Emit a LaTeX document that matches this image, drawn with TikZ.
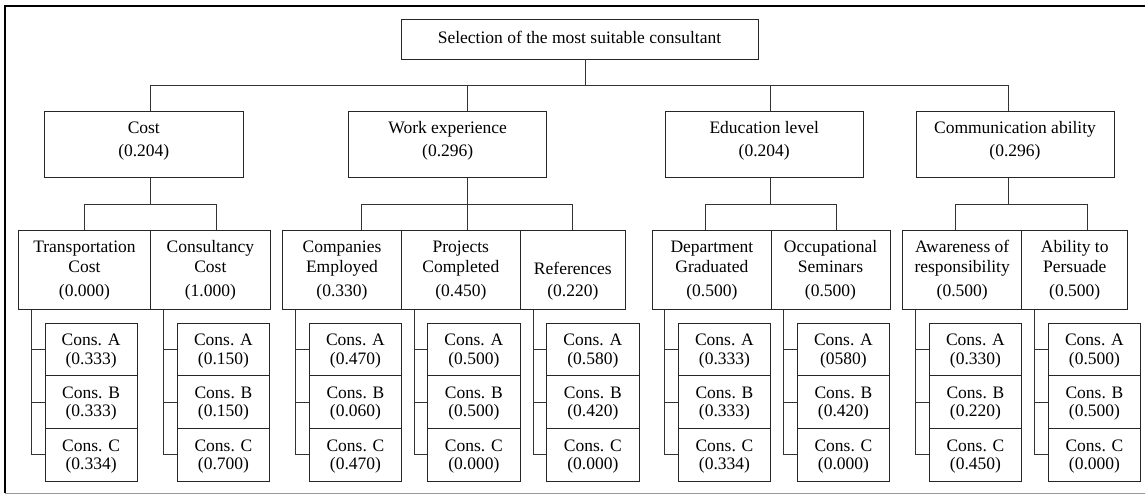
\documentclass[tikz,border=0pt]{standalone}
\usepackage{fontspec}
\setmainfont{Liberation Serif}
\usetikzlibrary{calc}
\newcommand\mytab[2]{\raisebox{-#1}{\begin{tabular}[b]{@{}c@{}}#2\end{tabular}}}
\newcommand\consgrp[5]{%
  \node[cbox] (#1a) at (#2+46.15,349.6) {\mytab{14.5pt}{Cons. A\\(#3)}};
  \node[cbox] (#1b) at (#2+46.15,402.2) {\mytab{14.5pt}{Cons. B\\(#4)}};
  \node[cbox] (#1c) at (#2+46.15,454.8) {\mytab{14.5pt}{Cons. C\\(#5)}};
  \draw[conn] ([xshift=-13pt]#1a.west |- #1.south) -- ([xshift=-13pt]#1c.west) -- (#1c.west);
  \draw[conn] ([xshift=-13pt]#1a.west) -- (#1a.west);
  \draw[conn] ([xshift=-13pt]#1b.west) -- (#1b.west);
}
\tikzset{
  box/.style={draw=black!85, line width=0.9pt, rectangle, inner sep=0pt, text height=0pt, text depth=0pt},
  rbox/.style={box, font=\fontsize{17.5}{18}\selectfont, minimum width=357pt, minimum height=40pt},
  abox/.style={box, font=\fontsize{17.5}{22.5}\selectfont, minimum height=66pt},
  bbox/.style={box, font=\fontsize{17.5}{20}\selectfont, minimum height=79.3pt},
  cbox/.style={box, font=\fontsize{17.5}{18.3}\selectfont, minimum width=92.3pt, minimum height=52.6pt},
  conn/.style={draw=black!80, line width=0.9pt},
}
\begin{document}
\begin{tikzpicture}[x=1pt,y=-1pt]
\useasboundingbox (0,0) rectangle (1145,494);
% frame
\draw[black, line width=1.6pt] (1145,6.3) -- (5,6.3) -- (5,493);
\draw[black!40, line width=1pt] (5,493.2) -- (1145,493.2);
% root
\node[rbox] (root) at (579.5,39) {\mytab{4.3pt}{Selection of the most suitable consultant}};
% level 1
\node[abox, minimum width=199pt] (cost) at (143.8,144.7) {\mytab{11.8pt}{Cost\\(0.204)}};
\node[abox, minimum width=198pt] (work) at (447.7,144.7) {\mytab{11.8pt}{Work experience\\(0.296)}};
\node[abox, minimum width=198.3pt] (edu) at (764.2,144.7) {\mytab{11.8pt}{Education level\\(0.204)}};
\node[abox, minimum width=198pt] (comm) at (1015,144.7) {\mytab{11.8pt}{Communication ability\\(0.296)}};
% level 2
\node[bbox, minimum width=132.4pt] (trans) at (84.5,269.7) {\mytab{26.3pt}{Transportation\\Cost\\[3.7pt](0.000)}};
\node[bbox, minimum width=119.3pt] (consu) at (210.35,269.7) {\mytab{26.3pt}{Consultancy\\Cost\\[3.7pt](1.000)}};
\node[bbox, minimum width=119.4pt] (comp) at (342,269.7) {\mytab{26.3pt}{Companies\\Employed\\[3.7pt](0.330)}};
\node[bbox, minimum width=118.3pt] (proj) at (460.85,269.7) {\mytab{26.3pt}{Projects\\Completed\\[3.7pt](0.450)}};
\node[bbox, minimum width=105.7pt] (refs) at (572.85,269.7) {\mytab{26.3pt}{\\References\\[2pt](0.220)}};
\node[bbox, minimum width=118.3pt] (dept) at (711.85,269.7) {\mytab{26.3pt}{Department\\Graduated\\[3.7pt](0.500)}};
\node[bbox, minimum width=119pt] (occ) at (830.5,269.7) {\mytab{26.3pt}{Occupational\\Seminars\\[3.7pt](0.500)}};
\node[bbox, minimum width=119pt] (aware) at (962.2,269.7) {\mytab{26.3pt}{Awareness of\\responsibility\\[3.7pt](0.500)}};
\node[bbox, minimum width=106pt] (abil) at (1074.7,269.7) {\mytab{26.3pt}{Ability to\\Persuade\\[3.7pt](0.500)}};
% buses
\coordinate (bus) at (0,85.7);
\coordinate (sbus) at (0,204);
\draw[conn] ([xshift=6.2pt]root.south) -- ([xshift=6.2pt]root.south |- bus);
\draw[conn] ([xshift=6.9pt]cost.north) -- ([xshift=6.9pt]cost.north |- bus) -- ([xshift=-7pt]comm.north |- bus) -- ([xshift=-7pt]comm.north);
\draw[conn] ([xshift=19.6pt]work.north) -- ([xshift=19.6pt]work.north |- bus);
\draw[conn] ([xshift=6.5pt]edu.north) -- ([xshift=6.5pt]edu.north |- bus);
% cost group
\draw[conn] ([xshift=6.9pt]cost.south) -- ([xshift=6.9pt]cost.south |- sbus);
\draw[conn] (trans.north) -- (trans.north |- sbus) -- ([xshift=6.35pt]consu.north |- sbus) -- ([xshift=6.35pt]consu.north);
% work group
\draw[conn] ([xshift=19.6pt]work.south) -- ([xshift=6.45pt]proj.north);
\draw[conn] ([xshift=19.7pt]comp.north) -- ([xshift=19.7pt]comp.north |- sbus) -- (refs.north |- sbus) -- (refs.north);
% education group
\draw[conn] ([xshift=6.5pt]edu.south) -- ([xshift=6.5pt]edu.south |- sbus);
\draw[conn] ([xshift=-6.85pt]dept.north) -- ([xshift=-6.85pt]dept.north |- sbus) -- ([xshift=6.2pt]occ.north |- sbus) -- ([xshift=6.2pt]occ.north);
% communication group
\draw[conn] ([xshift=-7pt]comm.south) -- ([xshift=-7pt]comm.south |- sbus);
\draw[conn] ([xshift=-6.5pt]aware.north) -- ([xshift=-6.5pt]aware.north |- sbus) -- ([xshift=13pt]abil.north |- sbus) -- ([xshift=13pt]abil.north);
% alternatives
\consgrp{trans}{45}{0.333}{0.333}{0.334}
\consgrp{consu}{177.3}{0.150}{0.150}{0.700}
\consgrp{comp}{309.3}{0.470}{0.060}{0.470}
\consgrp{proj}{427.7}{0.500}{0.500}{0.000}
\consgrp{refs}{546.7}{0.580}{0.420}{0.000}
\consgrp{dept}{678.3}{0.333}{0.333}{0.334}
\consgrp{occ}{797.3}{0580}{0.420}{0.000}
\consgrp{aware}{929.3}{0.330}{0.220}{0.450}
\consgrp{abil}{1048.3}{0.500}{0.500}{0.000}
\end{tikzpicture}
\end{document}
